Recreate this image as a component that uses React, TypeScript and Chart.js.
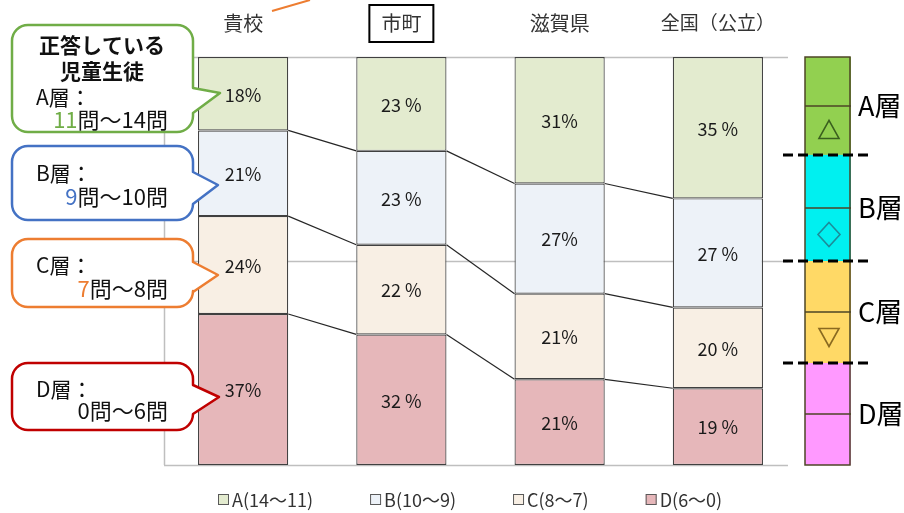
import React, { useEffect, useRef } from "react";
import { Chart, registerables } from "chart.js";

Chart.register(...registerables);

// ---- data ----
const categories = ["貴校", "市町", "滋賀県", "全国（公立）"];
const seriesLabels = ["A(14～11)", "B(10～9)", "C(8～7)", "D(6～0)"];
const layerA = [18, 23, 31, 35];
const layerB = [21, 23, 27, 27];
const layerC = [24, 22, 21, 20];
const layerD = [37, 32, 21, 19];
const percentSeparators = ["", " ", "", " "];
const gridValues = [0, 50, 100];
const panelBands = [100, 76, 50, 25, 0];
const panelLabels = ["A層", "B層", "C層", "D層"];
const calloutFirstLines = ["A層：", "B層：", "C層：", "D層："];
const calloutRangeStart = ["11", "9", "7", "0"];
const calloutRangeRest = ["問～14問", "問～10問", "問～8問", "問～6問"];
const calloutHeader = ["正答している", "児童生徒"];

// ---- styles ----
const seriesColors = ["#e3ebcf", "#edf2f8", "#f8efe4", "#e6b7ba"];
const calloutColors = ["#70ad47", "#4472c4", "#ed7d31", "#c00000"];
const numberColors = ["#70ad47", "#4472c4", "#ed7d31", "#111111"];
const panelColors = ["#92d050", "#00f0f0", "#ffd966", "#ff99ff"];
const JP = '"Noto Sans CJK JP", "Noto Sans", sans-serif';
const NUM = '"Liberation Sans Narrow", "Noto Sans CJK JP", sans-serif';

const totals = categories.map((_, i) => layerA[i] + layerB[i] + layerC[i] + layerD[i]);
const norm = (arr: number[]) => arr.map((v, i) => (v * 100) / totals[i]);

function roundedCallout(
  ctx: CanvasRenderingContext2D,
  x: number, y: number, w: number, h: number, r: number,
  tipX: number, tipY: number, b1: number, b2: number, color: string
) {
  ctx.save();
  ctx.beginPath();
  ctx.moveTo(x + r, y);
  ctx.lineTo(x + w - r, y);
  ctx.arcTo(x + w, y, x + w, y + r, r);
  ctx.lineTo(x + w, b1);
  ctx.lineTo(tipX, tipY);
  ctx.lineTo(x + w, b2);
  ctx.lineTo(x + w, y + h - r);
  ctx.arcTo(x + w, y + h, x + w - r, y + h, r);
  ctx.lineTo(x + r, y + h);
  ctx.arcTo(x, y + h, x, y + h - r, r);
  ctx.lineTo(x, y + r);
  ctx.arcTo(x, y, x + r, y, r);
  ctx.closePath();
  ctx.fillStyle = "#ffffff";
  ctx.fill();
  ctx.strokeStyle = color;
  ctx.lineWidth = 2.5;
  ctx.lineJoin = "round";
  ctx.stroke();
  ctx.restore();
}

const overlay = {
  id: "overlay",
  beforeDatasetsDraw(chart: any) {
    const { ctx, chartArea, scales } = chart;
    const metaTop = chart.getDatasetMeta(chart.data.datasets.length - 1);
    const last = metaTop.data[metaTop.data.length - 1];
    const gridRight = last.x + last.width / 2 + 25;
    ctx.save();
    ctx.strokeStyle = "#bfbfbf";
    ctx.lineWidth = 1.5;
    gridValues.forEach((v) => {
      const y = Math.round(scales.y.getPixelForValue(v)) + 0.5;
      ctx.beginPath();
      ctx.moveTo(chartArea.left, y);
      ctx.lineTo(gridRight, y);
      ctx.stroke();
    });
    ctx.beginPath();
    ctx.moveTo(chartArea.left + 0.5, chartArea.top);
    ctx.lineTo(chartArea.left + 0.5, chartArea.bottom);
    ctx.stroke();
    ctx.restore();
  },
  afterDatasetsDraw(chart: any) {
    const { ctx } = chart;
    const n = chart.data.datasets.length;
    ctx.save();
    // connectors
    ctx.strokeStyle = "#262626";
    ctx.lineWidth = 1.2;
    for (let d = 0; d < n - 1; d++) {
      const meta = chart.getDatasetMeta(d);
      for (let i = 0; i < meta.data.length - 1; i++) {
        const a = meta.data[i];
        const b = meta.data[i + 1];
        ctx.beginPath();
        ctx.moveTo(a.x + a.width / 2, a.y);
        ctx.lineTo(b.x - b.width / 2, b.y);
        ctx.stroke();
      }
    }
    // value labels
    ctx.fillStyle = "#1a1a1a";
    ctx.font = `18px ${NUM}`;
    ctx.textAlign = "center";
    ctx.textBaseline = "middle";
    for (let d = 0; d < n; d++) {
      const meta = chart.getDatasetMeta(d);
      const raw = chart.data.datasets[d].rawValues as number[];
      meta.data.forEach((el: any, i: number) => {
        ctx.fillText(`${raw[i]}${percentSeparators[i]}%`, el.x, (el.y + el.base) / 2 + 1);
      });
    }
    ctx.restore();
  },
  afterDraw(chart: any) {
    const { ctx, scales } = chart;
    ctx.save();
    // category titles on top
    ctx.fillStyle = "#333333";
    ctx.textAlign = "center";
    ctx.textBaseline = "middle";
    categories.forEach((c, i) => {
      ctx.font = i === 3 ? `19px ${JP}` : `20px ${JP}`;
      const x = scales.x.getPixelForValue(i);
      ctx.fillText(c, x, 23);
      if (i === 1) {
        const w = ctx.measureText(c).width;
        ctx.strokeStyle = "#000000";
        ctx.lineWidth = 2;
        ctx.strokeRect(x - w / 2 - 12, 5, w + 24, 37);
      }
    });
    // orange pointer tail at top
    ctx.strokeStyle = "#ed7d31";
    ctx.lineWidth = 2;
    ctx.beginPath();
    ctx.moveTo(272, 11);
    ctx.lineTo(310, 0);
    ctx.stroke();

    // left callouts
    const boxes = [
      { y: 25, h: 107, tip: [220, 93], b: [88, 113] },
      { y: 146, h: 74, tip: [218, 185], b: [172, 204] },
      { y: 239, h: 68, tip: [218, 275], b: [262, 292] },
      { y: 363, h: 67, tip: [219, 397], b: [385, 414] },
    ];
    boxes.forEach((bx, k) => {
      roundedCallout(ctx, 12, bx.y, 181, bx.h, 16, bx.tip[0], bx.tip[1], bx.b[0], bx.b[1], calloutColors[k]);
    });
    ctx.fillStyle = "#111111";
    ctx.textBaseline = "middle";
    ctx.font = `bold 21px ${JP}`;
    ctx.textAlign = "center";
    ctx.fillText(calloutHeader[0], 102, 45);
    ctx.fillText(calloutHeader[1], 102, 71);
    const line1Y = [97, 173, 265, 389];
    const line2Y = [120, 197, 289, 411];
    for (let k = 0; k < 4; k++) {
      ctx.textAlign = "left";
      ctx.fillStyle = "#111111";
      ctx.font = `21px ${JP}`;
      ctx.fillText(calloutFirstLines[k], 36, line1Y[k]);
      ctx.font = `22px ${JP}`;
      const restW = ctx.measureText(calloutRangeRest[k]).width;
      const numW = ctx.measureText(calloutRangeStart[k]).width;
      const right = 168;
      ctx.fillText(calloutRangeRest[k], right - restW, line2Y[k]);
      ctx.fillStyle = numberColors[k];
      ctx.fillText(calloutRangeStart[k], right - restW - numW, line2Y[k]);
    }

    // right panel
    const px0 = 805, px1 = 851;
    const ys = panelBands.map((v) => scales.y.getPixelForValue(v));
    for (let k = 0; k < 4; k++) {
      const top = ys[k], bot = ys[k + 1];
      ctx.fillStyle = panelColors[k];
      ctx.fillRect(px0, top, px1 - px0, bot - top);
    }
    ctx.strokeStyle = "#4d4526";
    ctx.lineWidth = 1.5;
    ctx.strokeRect(px0, ys[0], px1 - px0 - 1, ys[4] - ys[0]);
    for (let k = 0; k < 4; k++) {
      const mid = (ys[k] + ys[k + 1]) / 2;
      ctx.beginPath();
      ctx.moveTo(px0, mid);
      ctx.lineTo(px1, mid);
      ctx.stroke();
    }
    // symbols
    const cx = (px0 + px1) / 2 + 1;
    ctx.lineWidth = 1.6;
    {
      const cy = (ys[0] + ys[1]) / 2 + (ys[1] - ys[0]) / 4;
      ctx.strokeStyle = "#3a5f1e";
      ctx.beginPath();
      ctx.moveTo(cx, cy - 10);
      ctx.lineTo(cx + 10, cy + 8);
      ctx.lineTo(cx - 10, cy + 8);
      ctx.closePath();
      ctx.stroke();
    }
    {
      const cy = (ys[1] + ys[2]) / 2 + (ys[2] - ys[1]) / 4;
      ctx.strokeStyle = "#1c8c99";
      ctx.beginPath();
      ctx.moveTo(cx, cy - 12);
      ctx.lineTo(cx + 11, cy);
      ctx.lineTo(cx, cy + 12);
      ctx.lineTo(cx - 11, cy);
      ctx.closePath();
      ctx.stroke();
    }
    {
      const cy = (ys[2] + ys[3]) / 2 + (ys[3] - ys[2]) / 4;
      ctx.strokeStyle = "#8a6a20";
      ctx.beginPath();
      ctx.moveTo(cx - 10, cy - 9);
      ctx.lineTo(cx + 10, cy - 9);
      ctx.lineTo(cx, cy + 9);
      ctx.closePath();
      ctx.stroke();
    }
    // dashed separators
    ctx.strokeStyle = "#000000";
    ctx.lineWidth = 3;
    ctx.setLineDash([10, 5]);
    for (let k = 1; k < 4; k++) {
      ctx.beginPath();
      ctx.moveTo(783, ys[k]);
      ctx.lineTo(873, ys[k]);
      ctx.stroke();
    }
    ctx.setLineDash([]);
    ctx.fillStyle = "#000000";
    ctx.font = `27px ${JP}`;
    ctx.textAlign = "left";
    for (let k = 0; k < 4; k++) {
      ctx.fillText(panelLabels[k], 858, (ys[k] + ys[k + 1]) / 2);
    }

    // legend (A..D)
    ctx.font = `18px ${NUM}`;
    ctx.textBaseline = "middle";
    let lx = 218;
    const ly = 500;
    seriesLabels.forEach((lab, k) => {
      ctx.fillStyle = seriesColors[k];
      ctx.fillRect(lx, ly - 6, 11, 11);
      ctx.strokeStyle = "#595959";
      ctx.lineWidth = 1;
      ctx.strokeRect(lx + 0.5, ly - 5.5, 10, 10);
      ctx.fillStyle = "#333333";
      ctx.fillText(lab, lx + 14, ly);
      lx += 14 + ctx.measureText(lab).width + 57;
    });
    ctx.restore();
  },
};

export default function App() {
  const ref = useRef<HTMLCanvasElement>(null);
  useEffect(() => {
    const canvas = ref.current!;
    const series = [
      { label: seriesLabels[3], raw: layerD, color: seriesColors[3] },
      { label: seriesLabels[2], raw: layerC, color: seriesColors[2] },
      { label: seriesLabels[1], raw: layerB, color: seriesColors[1] },
      { label: seriesLabels[0], raw: layerA, color: seriesColors[0] },
    ];
    const chart = new Chart(canvas, {
      type: "bar",
      data: {
        labels: categories,
        datasets: series.map((s) => ({
          label: s.label,
          data: norm(s.raw),
          rawValues: s.raw,
          backgroundColor: s.color,
          borderColor: "#404040",
          borderWidth: 1.2,
          borderSkipped: false,
          categoryPercentage: 1,
          barPercentage: 0.57,
        })) as any,
      },
      options: {
        animation: false,
        responsive: false,
        devicePixelRatio: 1,
        layout: { padding: { left: 164, right: 107, top: 57, bottom: 48 } },
        plugins: { legend: { display: false }, tooltip: { enabled: false } },
        scales: {
          x: { stacked: true, display: false },
          y: { stacked: true, display: false, min: 0, max: 100 },
        },
      },
      plugins: [overlay],
    });
    return () => chart.destroy();
  }, []);
  return (
    <div style={{ position: "absolute", left: 0, top: 0, width: 904, height: 513, background: "#fff" }}>
      <canvas ref={ref} width={904} height={513} style={{ display: "block" }} />
    </div>
  );
}
